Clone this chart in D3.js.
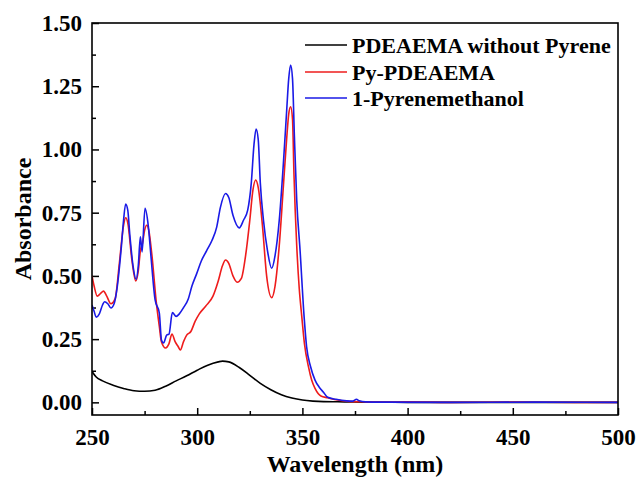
<!DOCTYPE html>
<html>
<head>
<meta charset="utf-8">
<script src="https://cdn.jsdelivr.net/npm/d3@7"></script>
<style>
  html, body { margin: 0; padding: 0; background: #fff; }
  svg text { font-family: "Liberation Serif", "Times New Roman", serif; font-weight: bold; fill: #000; }
</style>
</head>
<body>
<svg id="chart" width="636" height="478"></svg>
<script>
// ---------- data ----------
const seriesNames = ["PDEAEMA without Pyrene", "Py-PDEAEMA", "1-Pyrenemethanol"];
const seriesColors = ["#000000", "#ee1c1c", "#1a1ae6"];

const xTicksMajor = [250, 300, 350, 400, 450, 500];
const yTicksMajor = [0, 0.25, 0.5, 0.75, 1.0, 1.25, 1.5];

const blackWl  = [250, 252, 255, 260, 265, 270, 275, 280, 285, 290, 295, 300, 305, 310, 312, 315, 320, 325, 330, 335, 340, 345, 350, 355, 360, 370, 380, 400, 450, 500];
const blackAbs = [0.122, 0.100, 0.085, 0.068, 0.055, 0.046, 0.044, 0.048, 0.064, 0.085, 0.105, 0.127, 0.147, 0.160, 0.163, 0.160, 0.138, 0.107, 0.075, 0.050, 0.030, 0.017, 0.009, 0.005, 0.003, 0.002, 0.001, 0.000, 0.000, 0.000];

const redWl  = [250, 251, 252.5, 254, 255.5, 257, 259, 261, 263, 265, 266, 267, 269, 270.8, 272, 273, 274, 275, 276, 277, 278.5, 280.5, 282, 283, 285, 286.5, 288, 289.5, 291, 292, 293.5, 295, 297, 299, 301, 304, 307.5, 310, 312, 313.5, 315, 317, 319, 321, 323, 325, 326.5, 327.8, 329, 331, 333, 335.4, 337, 339, 341, 342.5, 343.5, 344.4, 345.3, 346, 347.3, 348.5, 349.7, 351, 352.9, 354.4, 356, 358.8, 362, 366, 372, 380, 390, 400, 420, 450, 480, 500];
const redAbs = [0.50, 0.46, 0.42, 0.43, 0.44, 0.42, 0.39, 0.41, 0.55, 0.70, 0.73, 0.71, 0.56, 0.48, 0.52, 0.60, 0.63, 0.68, 0.70, 0.68, 0.58, 0.40, 0.30, 0.24, 0.215, 0.23, 0.27, 0.24, 0.22, 0.207, 0.24, 0.266, 0.28, 0.32, 0.35, 0.38, 0.42, 0.48, 0.54, 0.563, 0.55, 0.50, 0.475, 0.49, 0.58, 0.72, 0.84, 0.879, 0.85, 0.70, 0.50, 0.414, 0.46, 0.62, 0.86, 1.04, 1.14, 1.169, 1.12, 0.90, 0.62, 0.45, 0.34, 0.23, 0.14, 0.088, 0.055, 0.025, 0.018, 0.010, 0.004, 0.002, 0.001, 0.002, 0.000, 0.001, 0.000, 0.000];

const blueWl  = [250, 251, 252, 253.5, 255, 256, 257.5, 259, 260.5, 262, 264, 265, 266, 267, 268, 269.5, 271, 272, 273, 273.8, 275.2, 276.8, 278, 280, 282, 283, 284, 285.5, 286.6, 288.2, 290, 291.5, 293.4, 295.8, 297.5, 299.8, 302, 304.5, 307, 309.3, 311, 313.5, 315, 317, 320, 322, 324, 325.7, 327, 328, 329, 330, 331.5, 333.4, 335.4, 337, 339, 341, 342.5, 343.5, 344.4, 345.3, 346.2, 347.3, 348.9, 350.8, 352, 353.9, 356, 358, 360, 362, 366, 371, 374, 375.7, 377, 380, 390, 420, 460, 500];
const blueAbs = [0.385, 0.36, 0.337, 0.35, 0.385, 0.398, 0.39, 0.373, 0.39, 0.457, 0.62, 0.72, 0.784, 0.76, 0.66, 0.54, 0.486, 0.54, 0.655, 0.595, 0.767, 0.694, 0.58, 0.405, 0.353, 0.247, 0.235, 0.266, 0.27, 0.355, 0.34, 0.35, 0.373, 0.41, 0.46, 0.51, 0.56, 0.60, 0.64, 0.694, 0.77, 0.826, 0.81, 0.74, 0.69, 0.72, 0.76, 0.867, 1.02, 1.081, 1.04, 0.867, 0.72, 0.60, 0.53, 0.58, 0.72, 0.95, 1.15, 1.28, 1.334, 1.28, 1.05, 0.80, 0.60, 0.34, 0.22, 0.141, 0.088, 0.06, 0.04, 0.02, 0.012, 0.006, 0.005, 0.012, 0.006, 0.002, 0.001, 0.000, 0.001, 0.000];

// ---------- layout ----------
const svg = d3.select("#chart");
const plot = { left: 92, right: 618, top: 23, bottom: 415 };

const x = d3.scaleLinear().domain([250, 500]).range([plot.left, plot.right]);
const y = d3.scaleLinear().domain([-0.05, 1.5]).range([plot.bottom, plot.top]);

svg.append("defs").append("clipPath").attr("id", "clip")
  .append("rect").attr("x", plot.left).attr("y", plot.top)
  .attr("width", plot.right - plot.left).attr("height", plot.bottom - plot.top);

// ---------- axes ----------
const fmt2 = d3.format(".2f");
const xAxis = svg.append("g").attr("transform", `translate(0,${plot.bottom})`)
  .call(d3.axisBottom(x).tickValues(xTicksMajor).tickSize(-7).tickPadding(10).tickFormat(d3.format("d")));
const xMinor = svg.append("g").attr("transform", `translate(0,${plot.bottom})`)
  .call(d3.axisBottom(x).tickValues(xTicksMajor.slice(0, -1).map(v => v + 25)).tickSize(-4).tickFormat(""));
const yAxis = svg.append("g").attr("transform", `translate(${plot.left},0)`)
  .call(d3.axisLeft(y).tickValues(yTicksMajor).tickSize(-7).tickPadding(10).tickFormat(fmt2));
const yMinor = svg.append("g").attr("transform", `translate(${plot.left},0)`)
  .call(d3.axisLeft(y).tickValues(yTicksMajor.slice(0, -1).map(v => v + 0.125)).tickSize(-4).tickFormat(""));

[xAxis, xMinor, yAxis, yMinor].forEach(g => {
  g.select(".domain").remove();
  g.selectAll("line").attr("stroke", "#000").attr("stroke-width", 1.5);
  g.selectAll("text").style("font-size", "23px").style("font-family", '"Liberation Serif", "Times New Roman", serif').style("font-weight", "bold").attr("fill", "#000");
});
xAxis.selectAll("text").attr("y", 14);

// ---------- curves ----------
const line = d3.line().x(d => x(d[0])).y(d => y(d[1])).curve(d3.curveMonotoneX);
const series = [
  d3.zip(blackWl, blackAbs),
  d3.zip(redWl, redAbs),
  d3.zip(blueWl, blueAbs)
];
const g = svg.append("g").attr("clip-path", "url(#clip)");
series.forEach((s, i) => {
  g.append("path").datum(s).attr("d", line)
    .attr("fill", "none").attr("stroke", seriesColors[i]).attr("stroke-width", 1.6)
    .attr("stroke-linejoin", "round");
});

// ---------- frame ----------
svg.append("rect").attr("x", plot.left).attr("y", plot.top)
  .attr("width", plot.right - plot.left).attr("height", plot.bottom - plot.top)
  .attr("fill", "none").attr("stroke", "#000").attr("stroke-width", 1.6);

// ---------- titles ----------
svg.append("text").attr("x", (plot.left + plot.right) / 2).attr("y", 472)
  .attr("text-anchor", "middle").style("font-size", "24px").text("Wavelength (nm)");
svg.append("text").attr("transform", `translate(31,${(plot.top + plot.bottom) / 2}) rotate(-90)`)
  .attr("text-anchor", "middle").style("font-size", "24px").text("Absorbance");

// ---------- legend ----------
const legendY = [45, 72, 98];
seriesNames.forEach((name, i) => {
  svg.append("line").attr("x1", 305).attr("x2", 347).attr("y1", legendY[i]).attr("y2", legendY[i])
    .attr("stroke", seriesColors[i]).attr("stroke-width", 1.6);
  svg.append("text").attr("x", 352).attr("y", legendY[i]).attr("dy", "0.35em")
    .style("font-size", "22px").text(name);
});
</script>
</body>
</html>
